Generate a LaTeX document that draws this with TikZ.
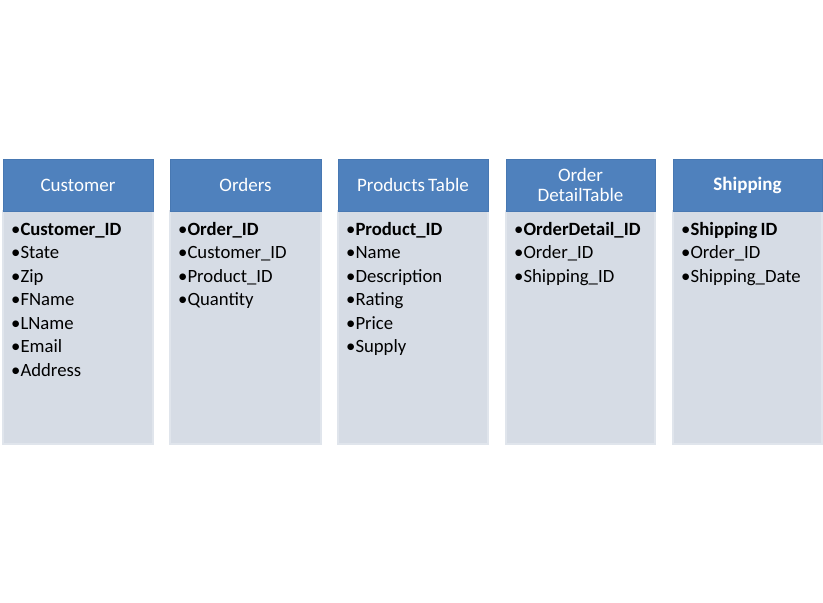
\documentclass[tikz,border=0pt]{standalone}
\usepackage{fontspec}
\setmainfont{Carlito}
\definecolor{hdrblue}{RGB}{79,129,189}
\definecolor{hdredge}{RGB}{72,120,178}
\definecolor{bodyfill}{RGB}{214,220,229}
\definecolor{bodyedge}{RGB}{224,229,236}
\begin{document}
\begin{tikzpicture}[x=1pt,y=-1pt,
  hdr/.style={draw=hdredge,fill=hdrblue,line width=0.8pt},
  bodybox/.style={draw=bodyedge,fill=bodyfill,line width=1.2pt},
  hdrtext/.style={text=white,font=\fontsize{19}{20}\selectfont,align=center,inner sep=0pt},
  item/.style={anchor=base west,inner sep=0pt,font=\fontsize{18.7}{22}\selectfont,text=black}]
\useasboundingbox (0,0) rectangle (823,603);
\fill[white] (0,0) rectangle (823,603);
% --- boxes ---
\foreach \n/\xa/\xb in {c/3/153, o/170/321, p/338/488, d/506/655, s/673/822}{
  \path[bodybox] (\xa,211) rectangle (\xb,444);
  \path[hdr] (\xa,159) rectangle (\xb,211);
  \coordinate (\n-hc) at ({(\xa+\xb)/2},185);
  \coordinate (\n-tl) at ({\xa+8},235);
}
% --- headers ---
\node[hdrtext] (c-h) at (c-hc) {Customer};
\node[hdrtext] (o-h) at (o-hc) {Orders};
\node[hdrtext] (p-h) at (p-hc) {Products\,Table};
\node[hdrtext] (d-h) at (d-hc) {Order\\DetailTable};
\node[hdrtext,font=\fontsize{19}{20}\selectfont\bfseries] (s-h) at (s-hc) {Shipping};
% --- items ---
\foreach \t [count=\i from 0] in {\textbf{Customer\_ID},State,Zip,FName,LName,Email,Address}
  \node[item] (c-i\i) at ([yshift=-23.5*\i]c-tl) {•\t};
\foreach \t [count=\i from 0] in {\textbf{Order\_ID},Customer\_ID,Product\_ID,Quantity}
  \node[item] (o-i\i) at ([yshift=-23.5*\i]o-tl) {•\t};
\foreach \t [count=\i from 0] in {\textbf{Product\_ID},Name,Description,Rating,Price,Supply}
  \node[item] (p-i\i) at ([yshift=-23.5*\i]p-tl) {•\t};
\foreach \t [count=\i from 0] in {\textbf{OrderDetail\_ID},Order\_ID,Shipping\_ID}
  \node[item] (d-i\i) at ([yshift=-23.5*\i]d-tl) {•\t};
\foreach \t [count=\i from 0] in {\textbf{Shipping\,ID},Order\_ID,Shipping\_Date}
  \node[item] (s-i\i) at ([yshift=-23.5*\i]s-tl) {•\t};
\end{tikzpicture}
\end{document}
